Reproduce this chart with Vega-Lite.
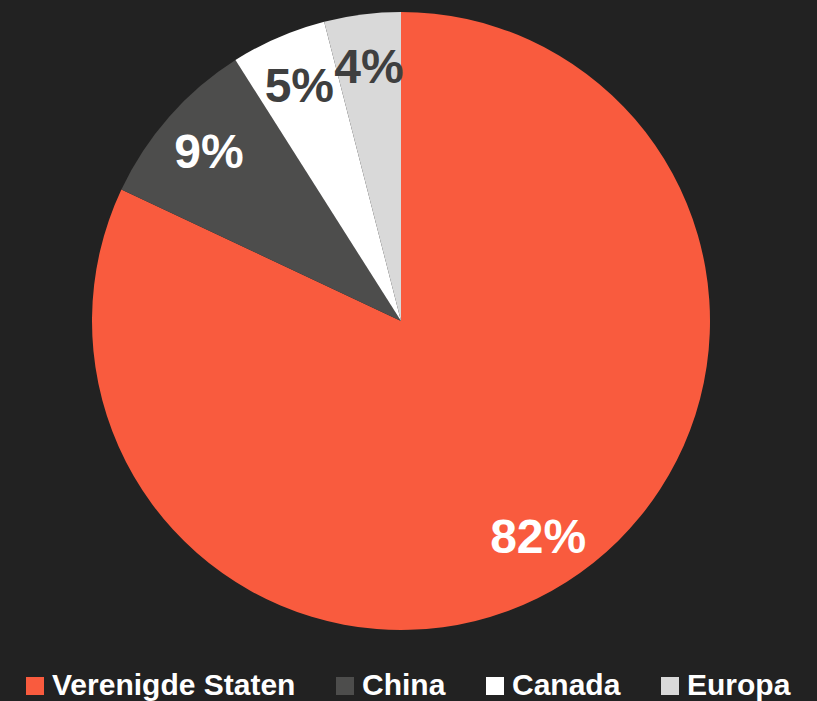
{
  "$schema": "https://vega.github.io/schema/vega-lite/v6.json",
  "width": 802,
  "height": 642,
  "autosize": "none",
  "padding": {"left": 0, "top": 0, "right": 15, "bottom": 59},
  "background": "#222222",
  "config": {"view": {"stroke": null}},
  "data": {
    "values": [
      {"land": "Verenigde Staten", "aandeel": 0.82, "volgorde": 1},
      {"land": "China", "aandeel": 0.09, "volgorde": 2},
      {"land": "Canada", "aandeel": 0.05, "volgorde": 3},
      {"land": "Europa", "aandeel": 0.04, "volgorde": 4}
    ]
  },
  "encoding": {
    "theta": {"field": "aandeel", "type": "quantitative", "stack": true},
    "order": {"field": "volgorde", "type": "quantitative"}
  },
  "layer": [
    {
      "mark": {"type": "arc", "outerRadius": 309, "stroke": null},
      "encoding": {
        "color": {
          "field": "land",
          "type": "nominal",
          "scale": {
            "domain": ["Verenigde Staten", "China", "Canada", "Europa"],
            "range": ["#F95B3E", "#4D4D4C", "#FFFFFF", "#D9D9D9"]
          },
          "legend": {
            "title": null,
            "orient": "none",
            "legendX": 20,
            "legendY": 671,
            "direction": "horizontal",
            "symbolType": "square",
            "symbolSize": 324,
            "symbolStrokeWidth": 0,
            "symbolOpacity": 1,
            "labelFont": "Liberation Sans",
            "labelFontSize": 30,
            "labelFontWeight": "bold",
            "labelColor": "#FFFFFF",
            "labelOffset": 2,
            "labelLimit": 400,
            "columnPadding": 34,
            "padding": 0
          }
        }
      }
    },
    {
      "mark": {"type": "text", "radius": 256, "font": "Liberation Sans", "fontSize": 48, "fontWeight": "bold", "align": "center", "baseline": "middle", "dy": 2},
      "encoding": {
        "text": {"field": "aandeel", "type": "quantitative", "format": ".0%"},
        "color": {
          "condition": {"test": "datum.aandeel >= 0.09", "value": "#FFFFFF"},
          "value": "#3F3F3F"
        }
      }
    }
  ]
}
